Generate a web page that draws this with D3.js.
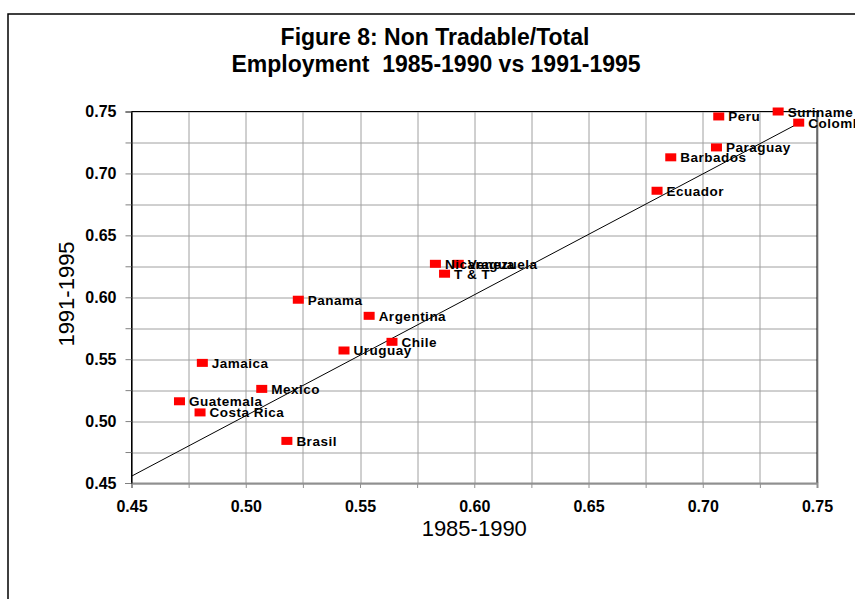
<!DOCTYPE html>
<html>
<head>
<meta charset="utf-8">
<script src="https://cdn.jsdelivr.net/npm/d3@7"></script>
<style>
  body { margin: 0; background: #fff; }
  svg { display: block; font-family: "Liberation Sans", Arial, sans-serif; }
</style>
</head>
<body>
<svg id="chart" width="855" height="599"></svg>
<script>
// data
var countries = ["Suriname", "Colombia", "Peru", "Paraguay", "Barbados", "Ecuador",
                 "Nicaragua", "Venezuela", "T & T", "Panama", "Argentina", "Chile",
                 "Uruguay", "Jamaica", "Mexico", "Guatemala", "Costa Rica", "Brasil"];
var period1 = [0.733, 0.742, 0.707, 0.706, 0.686, 0.680,
               0.583, 0.593, 0.587, 0.523, 0.554, 0.564,
               0.543, 0.481, 0.507, 0.471, 0.480, 0.518];   // 1985-1990
var period2 = [0.750, 0.741, 0.746, 0.721, 0.713, 0.686,
               0.627, 0.627, 0.619, 0.598, 0.585, 0.564,
               0.557, 0.547, 0.526, 0.516, 0.507, 0.484];   // 1991-1995
var trendX = [0.45, 0.744];
var trendY = [0.4555, 0.7425];
var tickValues = [0.45, 0.50, 0.55, 0.60, 0.65, 0.70, 0.75];
var gridValues = d3.range(0, 13).map(function(i) { return 0.45 + i * 0.025; });

var svg = d3.select("svg#chart"),
    margin = {top: 111.5, right: 38, bottom: 116, left: 131.5},
    width = +svg.attr("width") - margin.left - margin.right,
    height = +svg.attr("height") - margin.top - margin.bottom;

var x = d3.scaleLinear().domain([0.45, 0.75]).range([0, width]),
    y = d3.scaleLinear().domain([0.45, 0.75]).range([height, 0]);

function isMajor(d) {
  return tickValues.some(function(t) { return Math.abs(t - d) < 1e-9; });
}

// outer frame
svg.append("rect")
    .attr("x", 8).attr("y", 14)
    .attr("width", 900).attr("height", 700)
    .attr("fill", "none")
    .attr("stroke", "#000")
    .attr("stroke-width", 1.5);

svg.append("text")
    .attr("x", 435).attr("y", 45)
    .attr("text-anchor", "middle")
    .attr("font-size", 23).attr("font-weight", "bold")
    .text("Figure 8: Non Tradable/Total");
svg.append("text")
    .attr("x", 436).attr("y", 72)
    .attr("text-anchor", "middle")
    .attr("font-size", 23).attr("font-weight", "bold")
    .style("white-space", "pre")
    .text("Employment  1985-1990 vs 1991-1995");

var g = svg.append("g")
    .attr("transform", "translate(" + margin.left + "," + margin.top + ")");

// grid
g.selectAll(".vgrid").data(gridValues).enter().append("line")
    .attr("class", "vgrid")
    .attr("x1", function(d) { return Math.round(x(d)) + 0.5; })
    .attr("x2", function(d) { return Math.round(x(d)) + 0.5; })
    .attr("y1", 0).attr("y2", height)
    .attr("stroke", "#a0a0a0");
g.selectAll(".hgrid").data(gridValues).enter().append("line")
    .attr("class", "hgrid")
    .attr("y1", function(d) { return Math.round(y(d)) + 0.5; })
    .attr("y2", function(d) { return Math.round(y(d)) + 0.5; })
    .attr("x1", 0).attr("x2", width)
    .attr("stroke", "#a0a0a0");

// plot border: top/right/left black, bottom grey axis
g.append("path")
    .attr("d", "M0," + height + "V0H" + width + "V" + height)
    .attr("fill", "none").attr("stroke", "#000");

var xAxis = g.append("g")
    .attr("transform", "translate(0," + height + ")")
    .call(d3.axisBottom(x).tickValues(gridValues).tickSize(5)
        .tickFormat(function(d) { return isMajor(d) ? d3.format(".2f")(d) : ""; }));
xAxis.select(".domain").attr("stroke", "#909090").attr("stroke-width", 2);
xAxis.selectAll(".tick line").attr("stroke", "#909090");
xAxis.selectAll("text")
    .attr("font-size", 16).attr("font-weight", "bold")
    .attr("font-family", "Liberation Sans, Arial, sans-serif")
    .attr("fill", "#000").attr("dy", null).attr("y", 29);

var yAxis = g.append("g")
    .call(d3.axisLeft(y).tickValues(gridValues).tickSize(6)
        .tickFormat(function(d) { return isMajor(d) ? d3.format(".2f")(d) : ""; }));
yAxis.select(".domain").attr("stroke", "#000");
yAxis.selectAll(".tick line").attr("stroke", "#808080");
yAxis.selectAll("text")
    .attr("font-size", 16).attr("font-weight", "bold")
    .attr("font-family", "Liberation Sans, Arial, sans-serif")
    .attr("fill", "#000").attr("x", -15);

// axis titles
svg.append("text")
    .attr("x", margin.left + width / 2).attr("y", 536)
    .attr("text-anchor", "middle")
    .attr("font-size", 22)
    .text("1985-1990");
svg.append("text")
    .attr("transform", "translate(74," + 294 + ") rotate(-90)")
    .attr("text-anchor", "middle")
    .attr("font-size", 22)
    .text("1991-1995");

// trend line
g.append("line")
    .attr("x1", x(trendX[0])).attr("y1", y(trendY[0]))
    .attr("x2", x(trendX[1])).attr("y2", y(trendY[1]))
    .attr("stroke", "#000").attr("stroke-width", 1);

// points
var pts = countries.map(function(c, i) { return {name: c, a: period1[i], b: period2[i]}; });

g.selectAll(".pt").data(pts).enter().append("rect")
    .attr("class", "pt")
    .attr("x", function(d) { return x(d.a) - 5.5; })
    .attr("y", function(d) { return y(d.b) - 4; })
    .attr("width", 11).attr("height", 8)
    .attr("fill", "#ff0000");

g.selectAll(".lbl").data(pts).enter().append("text")
    .attr("class", "lbl")
    .attr("x", function(d) { return x(d.a) + 9.5; })
    .attr("y", function(d) { return y(d.b) + 5; })
    .attr("font-size", 13.5).attr("font-weight", "bold")
    .attr("letter-spacing", 0.5)
    .text(function(d) { return d.name; });
</script>
</body>
</html>
